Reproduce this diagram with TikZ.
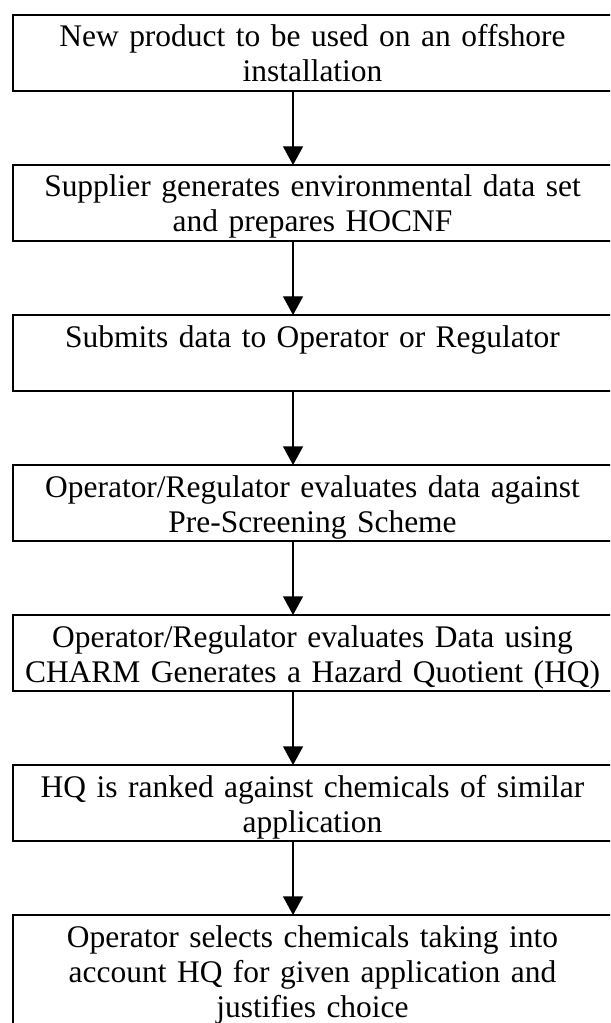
\documentclass[tikz,border=0pt]{standalone}
\usepackage{fontspec}
\setmainfont{Liberation Serif}
\usetikzlibrary{positioning,arrows.meta}

\begin{document}
\begin{tikzpicture}[
    x=0.75pt, y=-0.75pt,
    font=\fontsize{23.6}{26.25}\selectfont,
    stage/.style={draw=ink, line width=2pt, inner sep=0pt, outer sep=0pt,
      text width=449.25pt, align=center, text height=24pt, text depth=33pt},
    flow/.style={draw=ink, line width=1pt, -{Triangle[width=15pt,length=14pt]}},
    node distance=55.5pt
]
\definecolor{ink}{HTML}{000000}
\def\armx{-14.6pt}

\useasboundingbox (0,0) rectangle (610,1023);
\clip (0,0) rectangle (610,1023);

% boxes run off the right edge of the page, the last one off the bottom
\node[stage, anchor=north] (product) at (312.5,15)
  {New product to be used on an offshore\\installation};
\node[stage, below=of product] (supplier)
  {Supplier generates environmental data set\\and prepares HOCNF};
\node[stage, below=of supplier] (submit)
  {Submits data to Operator or Regulator};
\node[stage, below=of submit] (prescreen)
  {Operator/Regulator evaluates data against\\Pre-Screening Scheme};
\node[stage, below=of prescreen] (charm)
  {Operator/Regulator evaluates Data using\\CHARM Generates a Hazard Quotient (HQ)};
\node[stage, below=of charm] (ranking)
  {HQ is ranked against chemicals of similar\\application};
\node[stage, below=of ranking, text depth=90pt] (selection)
  {Operator selects chemicals taking into\\account HQ for given application and\\justifies choice};

\foreach \from/\to in {product/supplier, supplier/submit, submit/prescreen,
    prescreen/charm, charm/ranking, ranking/selection} {
  \draw[flow] ([xshift=\armx]\from.south) -- ([xshift=\armx]\to.north);
}
\end{tikzpicture}
\end{document}
